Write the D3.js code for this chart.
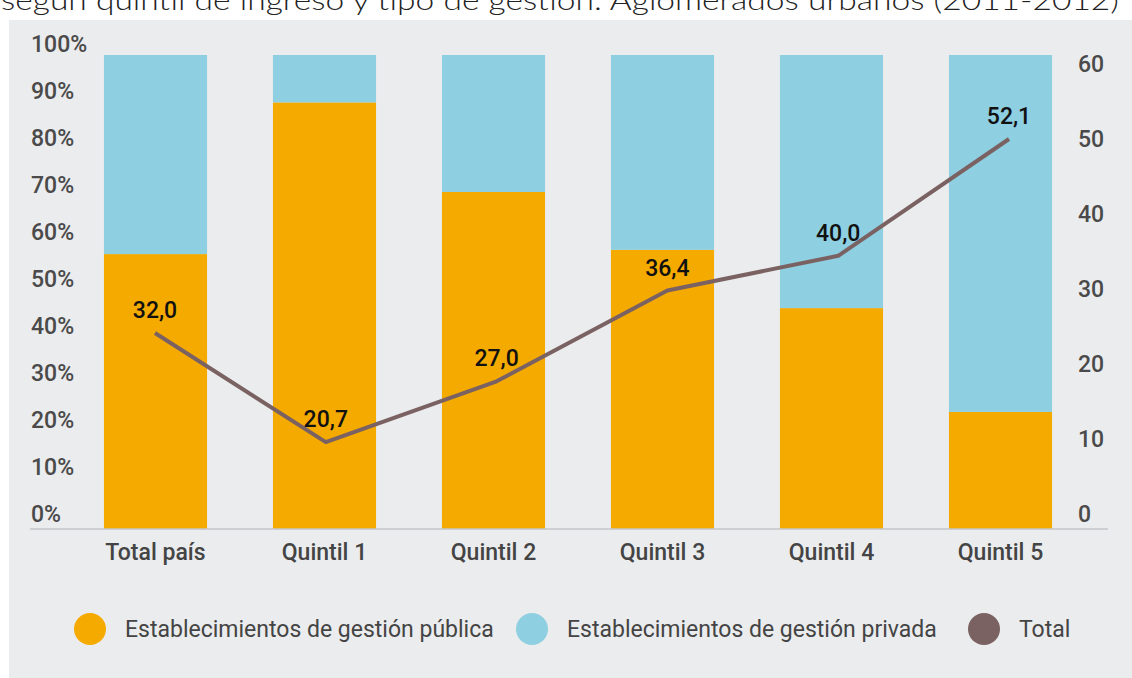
<!DOCTYPE html>
<html>
<head>
<meta charset="utf-8">
<script src="https://cdn.jsdelivr.net/npm/d3@7"></script>
<style>
  body { margin: 0; background: #fff; }
  svg { display: block; }
</style>
</head>
<body>
<svg id="chart"></svg>
<script>
// datos del grafico
var categories = ["Total país", "Quintil 1", "Quintil 2", "Quintil 3", "Quintil 4", "Quintil 5"];
var publica = [58.0, 90.0, 71.1, 58.9, 46.6, 24.7];
var privada = [42.0, 10.0, 28.9, 41.1, 53.4, 75.3];
var total = [32.0, 20.7, 27.0, 36.4, 40.0, 52.1];
var leftTicks = [0, 10, 20, 30, 40, 50, 60, 70, 80, 90, 100];
var rightTicks = [0, 10, 20, 30, 40, 50, 60];
var legendLabels = ["Establecimientos de gestión pública", "Establecimientos de gestión privada", "Total"];

var colors = { publica: "#f5aa00", privada: "#8ecfe1", total: "#7b6262" };
var width = 1132, height = 678;
var font = "Roboto, 'Noto Sans', sans-serif";

var svg = d3.select("#chart")
    .attr("width", width)
    .attr("height", height);

// panel gris
svg.append("rect")
    .attr("x", 9).attr("y", 20)
    .attr("width", width - 9).attr("height", height - 20)
    .attr("fill", "#ebecee");

// titulo (cortado arriba, como en el original)
svg.append("text")
    .attr("x", 1).attr("y", 10)
    .attr("textLength", 1118)
    .attr("lengthAdjust", "spacingAndGlyphs")
    .style("font-family", "Lato, 'Open Sans', sans-serif")
    .style("font-weight", 300)
    .style("font-size", "28px")
    .attr("fill", "#222")
    .text("según quintil de ingreso y tipo de gestión. Aglomerados urbanos (2011-2012)");

// escalas
var x = d3.scaleBand()
    .domain(categories)
    .range([71, 1085])
    .paddingInner(0.39)
    .paddingOuter(0.195);

var xLine = d3.scalePoint()
    .domain(categories)
    .range([155, 1009]);

var yPct = d3.scaleLinear().domain([0, 100]).range([529, 55]);
var yPctLabels = d3.scaleLinear().domain([0, 100]).range([529, 59]);
var yRight = d3.scaleLinear().domain([0, 60]).range([529, 79]);
// la linea usa su propia escala (no coincide con el eje derecho en el original)
var yLine = d3.scaleLinear().domain([11.7, 60.8]).range([529, 55]);

// barras apiladas
var rows = categories.map(function(c, i) {
    return { cat: c, publica: publica[i], privada: privada[i] };
});
var stack = d3.stack().keys(["publica", "privada"])(rows);

svg.append("g").selectAll("g")
    .data(stack)
    .join("g")
    .attr("fill", function(d) { return colors[d.key]; })
    .selectAll("rect")
    .data(function(d) { return d; })
    .join("rect")
    .attr("x", function(d) { return x(d.data.cat); })
    .attr("y", function(d) { return yPct(d[1]); })
    .attr("height", function(d) { return yPct(d[0]) - yPct(d[1]); })
    .attr("width", x.bandwidth());

// linea base
svg.append("line")
    .attr("x1", 30).attr("x2", 1108)
    .attr("y1", yPct(0)).attr("y2", yPct(0))
    .attr("stroke", "#c5c6c8")
    .attr("stroke-width", 1.5);

// eje izquierdo
var leftAxis = svg.append("g")
    .attr("transform", "translate(31,0)")
    .call(d3.axisRight(yPctLabels)
        .tickValues(leftTicks)
        .tickFormat(function(d) { return d + "%"; })
        .tickSize(0)
        .tickPadding(0));
leftAxis.select(".domain").remove();
leftAxis.selectAll("text")
    .attr("dy", null)
    .attr("y", -8)
    .attr("fill", "#4a4a4a")
    .style("font-family", font)
    .style("font-size", "23px")
    .style("font-weight", 500);

// eje derecho
var rightAxis = svg.append("g")
    .attr("transform", "translate(1078,0)")
    .call(d3.axisRight(yRight)
        .tickValues(rightTicks)
        .tickSize(0)
        .tickPadding(0));
rightAxis.select(".domain").remove();
rightAxis.selectAll("text")
    .attr("dy", null)
    .attr("y", -8)
    .attr("fill", "#4a4a4a")
    .style("font-family", font)
    .style("font-size", "23px")
    .style("font-weight", 500);

// eje x
var xAxis = svg.append("g")
    .attr("transform", "translate(0," + yPct(0) + ")")
    .call(d3.axisBottom(x).tickSize(0).tickPadding(0));
xAxis.select(".domain").remove();
xAxis.selectAll("text")
    .attr("dy", null)
    .attr("y", 31)
    .attr("fill", "#444")
    .style("font-family", font)
    .style("font-size", "23px")
    .style("font-weight", 500);

// linea total
var line = d3.line()
    .x(function(d, i) { return xLine(categories[i]); })
    .y(function(d) { return yLine(d); });

svg.append("path")
    .datum(total)
    .attr("d", line)
    .attr("fill", "none")
    .attr("stroke", colors.total)
    .attr("stroke-width", 4)
    .attr("stroke-linejoin", "round");

// etiquetas de la linea
svg.append("g").selectAll("text")
    .data(total)
    .join("text")
    .attr("x", function(d, i) { return xLine(categories[i]); })
    .attr("y", function(d) { return yLine(d) - 15; })
    .attr("text-anchor", "middle")
    .attr("fill", "#111")
    .style("font-family", font)
    .style("font-size", "23px")
    .style("font-weight", 500)
    .text(function(d) { return d3.format(".1f")(d).replace(".", ","); });

// leyenda
var legendColors = [colors.publica, colors.privada, colors.total];
var legendX = [90, 532, 984];
var legend = svg.append("g").selectAll("g")
    .data(legendLabels)
    .join("g")
    .attr("transform", function(d, i) { return "translate(" + legendX[i] + ",629)"; });

legend.append("circle")
    .attr("r", 16)
    .attr("fill", function(d, i) { return legendColors[i]; });

legend.append("text")
    .attr("x", 35)
    .attr("y", 8)
    .attr("fill", "#444")
    .style("font-family", font)
    .style("font-size", "23px")
    .text(function(d) { return d; });
</script>
</body>
</html>
